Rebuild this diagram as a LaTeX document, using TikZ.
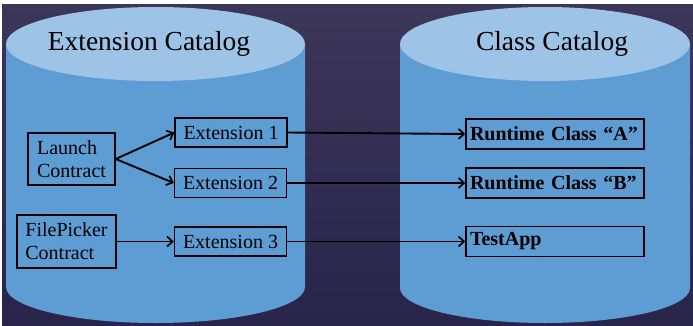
\documentclass[tikz,border=0pt]{standalone}
\usepackage{fontspec}
\setmainfont{Liberation Serif}
\usepackage{xcolor}
\usepackage{tikz}
\usetikzlibrary{arrows.meta, positioning, calc}

\definecolor{bgtop}{HTML}{3C3659}
\definecolor{bgbot}{HTML}{28244A}
\definecolor{cyltop}{HTML}{9DC3E6}
\definecolor{cylbody}{HTML}{5E9CD4}

\begin{document}
\begin{tikzpicture}[x=1pt, y=-1pt,
  box/.style={draw=black, line width=1.4pt, inner sep=0pt, font=\fontsize{20}{23}\selectfont},
  arr/.style={line width=1.9pt, -{Straight Barb[length=5.5pt,width=10pt,line width=1.7pt]}}]
  \useasboundingbox (0,0) rectangle (693,326);

  % --- Background ---
  \fill[white] (0,0) rectangle (693,326);
  \shade[top color=bgtop, bottom color=bgbot] (2,5) rectangle (693,326);

  % --- Extension catalog cylinder ---
  \fill[cylbody] (6,44) -- (6,287)
    arc[start angle=180, end angle=360, x radius=149.5pt, y radius=36pt] -- (305,44) -- cycle;
  \fill[cyltop] (155.5,44) ellipse[x radius=149.5pt, y radius=37pt];
  \node[font=\fontsize{27.5}{30}\selectfont] (extcat) at (149,44) {Extension Catalog};

  % --- Class catalog cylinder ---
  \fill[cylbody] (400,44) -- (400,288)
    arc[start angle=180, end angle=360, x radius=145pt, y radius=35pt] -- (690,44) -- cycle;
  \fill[cyltop] (545,44) ellipse[x radius=145pt, y radius=37pt];
  \node[font=\fontsize{27.5}{30}\selectfont] (clscat) at (552,44) {Class Catalog};

  % --- Contracts ---
  \node[box, minimum width=87pt, minimum height=52pt, align=left] (launch) at (71.5,159) {Launch\\Contract};
  \node[box, minimum width=99pt, minimum height=53pt, align=left] (picker) at (66.5,241.5) {FilePicker\\Contract};

  % --- Extensions ---
  \node[box, minimum width=112pt, minimum height=29pt] (ext1) at (231,132.5) {Extension 1};
  \node[box, minimum width=112pt, minimum height=29pt] (ext2) at (230.5,183) {Extension 2};
  \node[box, minimum width=112pt, minimum height=29pt] (ext3) at (230.5,241.5) {Extension 3};

  % --- Runtime classes ---
  \node[box, text width=170pt, minimum height=30pt, inner xsep=4pt, align=left, font=\fontsize{20}{23}\selectfont\bfseries] (rta) at (555,134) {Runtime Class “A”};
  \node[box, text width=170pt, minimum height=30pt, inner xsep=4pt, align=left, font=\fontsize{20}{23}\selectfont\bfseries] (rtb) at (555,183) {Runtime Class “B”};
  \node[box, text width=170pt, minimum height=30pt, inner xsep=4pt, align=left, font=\fontsize{20}{23}\selectfont\bfseries] (app) at (555,241.5) {TestApp};

  % --- Connectors ---
  \draw[arr] (launch.east) -- (ext1.west);
  \draw[arr] (launch.east) -- (ext2.west);
  \draw[arr] (picker.east) -- (ext3.west);
  \draw[arr] (ext1.east) -- (rta.west);
  \draw[arr] (ext2.east) -- (rtb.west);
  \draw[arr] (ext3.east) -- (app.west);
\end{tikzpicture}
\end{document}
